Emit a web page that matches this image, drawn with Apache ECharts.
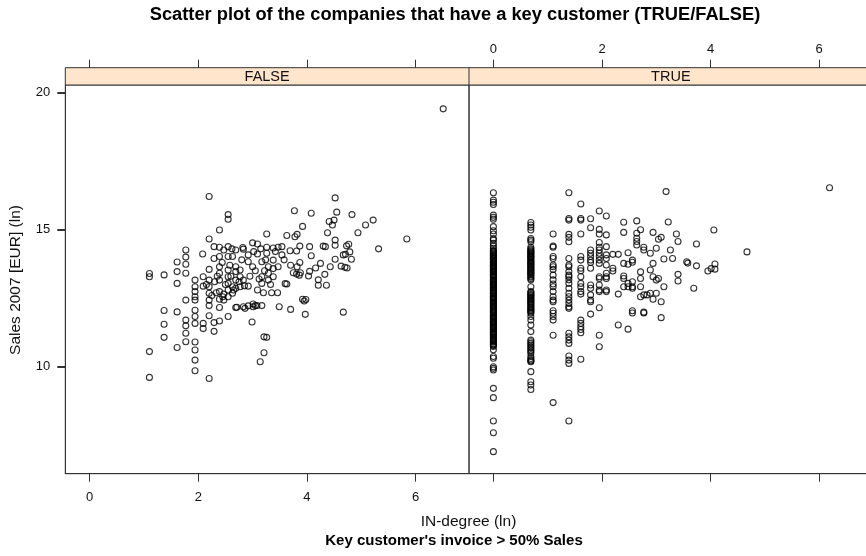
<!DOCTYPE html>
<html>
<head>
<meta charset="utf-8">
<script src="https://cdn.jsdelivr.net/npm/echarts@6/dist/echarts.min.js"></script>
<style>html,body{margin:0;padding:0;background:#fff;}#c{width:866px;height:556px;}</style>
</head>
<body>
<div id="c"></div>
<script>
// ---------- DATA ----------
const panelNames = ['FALSE', 'TRUE'];
const xTicks = [0, 2, 4, 6];
const yTicks = [10, 15, 20];

// FALSE panel: [IN-degree (ln), Sales 2007 (ln)]
const falsePts = [
[2.20,16.21],[4.52,16.16],[2.55,15.55],[2.55,15.38],[3.77,15.69],[4.08,15.60],[4.55,15.64],[4.83,15.55],[5.22,15.35],[5.08,15.17],
[4.94,14.89],[4.41,15.30],[4.50,15.35],[4.47,15.17],[4.38,14.89],[3.92,15.12],[2.39,14.99],[5.84,14.66],[5.32,14.30],[3.26,14.84],
[3.63,14.79],[3.78,14.74],[3.82,14.83],[2.20,14.66],[4.52,14.62],[4.77,14.47],[4.73,14.41],[4.52,14.43],[4.30,14.40],[4.34,14.38],
[4.05,14.38],[3.87,14.40],[4.79,14.19],[4.67,14.08],[4.71,14.10],[4.82,13.92],[4.52,13.92],[4.70,13.63],[4.74,13.60],[4.63,13.67],
[4.43,13.65],[4.33,13.37],[4.36,12.97],[4.21,13.17],[4.21,12.97],[4.25,13.77],[4.16,13.60],[4.05,13.48],[4.03,13.31],[4.08,14.05],
[3.87,13.80],[3.82,13.65],[3.75,13.43],[3.81,13.38],[3.86,13.34],[3.88,13.43],[3.70,13.70],[3.92,12.46],[3.95,12.40],[3.98,12.45],
[4.67,11.99],[3.97,11.91],[3.70,12.09],[3.49,12.19],[3.63,13.02],[3.60,13.03],[3.46,12.70],[3.35,12.70],[3.20,12.70],[3.17,12.23],
[3.08,12.23],[3.01,12.19],[2.92,12.22],[2.86,12.13],[2.83,12.19],[2.71,12.17],[2.69,12.16],[2.99,11.63],[3.21,11.09],[3.26,11.07],
[3.21,10.51],[3.14,10.18],[3.01,12.29],[3.05,12.23],[2.55,11.83],[2.39,11.67],[2.29,11.61],[2.29,11.29],[2.20,11.86],[2.09,11.58],
[2.09,11.39],[1.94,12.06],[1.94,11.83],[1.94,11.58],[1.94,10.90],[1.94,10.61],[1.94,10.24],[1.94,9.85],[2.20,9.57],[1.77,11.70],
[1.77,11.49],[1.77,11.22],[1.77,10.91],[1.61,12.00],[1.61,10.70],[1.37,12.05],[1.37,11.55],[1.37,11.07],[1.10,10.55],[1.10,9.61],
[1.10,13.40],[1.10,13.28],[1.37,13.35],[1.61,13.47],[1.61,13.04],[1.61,13.82],[1.77,14.26],[1.77,14.00],[1.77,13.74],[1.77,13.41],
[1.77,12.43],[1.94,13.16],[1.94,12.92],[1.94,12.74],[1.94,12.55],[1.94,12.43],[2.08,14.11],[2.09,13.28],[2.09,12.94],[2.20,13.55],
[2.20,13.16],[2.20,12.92],[2.20,12.68],[2.20,12.43],[2.20,12.23],[2.29,14.38],[2.29,13.95],[2.39,14.36],[2.39,14.02],[2.39,13.65],
[2.39,13.41],[2.39,13.16],[2.39,12.74],[2.39,12.46],[2.39,12.16],[2.47,14.26],[2.47,12.65],[2.47,12.43],[2.55,14.38],[2.55,14.02],
[2.55,13.53],[2.55,13.28],[2.55,13.04],[2.55,12.80],[2.55,12.55],[2.63,14.02],[2.63,12.92],[2.63,12.68],[2.69,14.26],[2.69,13.65],
[2.69,13.47],[2.69,13.16],[2.69,12.86],[2.77,13.53],[2.77,13.28],[2.77,12.92],[2.83,14.29],[2.83,13.16],[2.92,14.08],[2.92,13.83],
[2.92,12.94],[3.00,14.52],[3.00,13.65],[3.09,14.48],[3.09,14.11],[3.09,12.80],[3.17,13.83],[3.17,13.28],[3.17,13.04],[3.26,14.36],
[3.26,14.14],[3.29,13.65],[3.29,13.41],[3.29,13.16],[3.38,14.33],[3.38,13.89],[3.38,13.58],[3.38,13.28],[3.47,14.36],[3.47,13.65],
[3.54,14.38],[3.54,14.08],[3.69,14.23],[3.81,14.22],[6.51,19.41],
[2.33,12.70],[2.45,12.55],[2.50,13.00],[2.60,13.30],[2.65,12.80],[2.75,13.10],[2.85,12.95],[2.95,13.30],[3.05,13.50],[3.12,13.20],
[3.22,13.50],[3.33,13.00],[2.30,13.10],[2.44,13.80],[2.58,13.70],[2.80,13.90],[3.02,14.20],[3.15,14.30],[3.42,14.20],[3.58,13.90],
[2.15,13.00],[2.25,12.60],[2.35,13.30],[2.62,14.30],[2.82,14.35],[3.24,13.90]
];

// TRUE panel: columns of low integer in-degrees (x value) and their Sales values
const trueColX = [0, 0.69, 1.10, 1.39, 1.61, 1.79, 1.95, 2.08];
const trueColY = [
  [16.35,16.08,16.00,15.92,15.53,15.45,15.38,15.11,14.96,14.84,14.68,14.62,14.50,14.40,14.32,
   14.24,14.19,14.11,14.06,13.97,13.93,13.84,13.79,13.70,13.66,13.59,13.51,13.46,13.37,13.33,13.26,13.17,13.12,13.04,
   12.99,12.91,12.86,12.79,12.71,12.66,12.57,12.52,12.46,12.37,12.31,12.24,12.17,12.11,12.03,11.97,11.88,11.82,11.77,
   11.69,11.63,11.55,11.49,11.42,11.37,11.28,11.22,11.16,11.08,11.02,10.95,10.89,10.80,10.74,
   14.22,14.15,14.08,14.01,13.95,13.88,13.81,13.75,13.68,13.62,13.55,13.48,13.42,13.35,13.29,13.21,13.15,13.08,13.01,
   12.95,12.88,12.82,12.75,12.68,12.62,12.55,12.49,12.41,12.34,12.27,12.21,12.14,12.07,12.00,11.93,11.85,11.79,11.73,
   11.66,11.60,11.52,11.45,11.39,11.33,11.25,11.19,11.12,11.05,10.99,10.92,10.84,10.77,
   10.62,10.37,10.31,10.00,9.94,9.88,9.21,8.87,8.02,7.59,6.90],
  [15.26,15.17,15.09,14.99,14.68,14.62,14.56,14.36,14.26,14.19,14.12,14.03,13.97,13.88,13.81,13.74,13.66,13.58,13.51,
   13.43,13.36,13.27,13.17,12.92,12.74,12.67,12.60,12.51,12.43,12.36,12.28,12.19,12.11,12.03,11.95,11.83,11.70,11.52,11.28,
   10.97,10.85,10.73,10.67,10.55,10.37,10.24,10.18,9.82,9.45,9.33,9.17,
   14.30,14.22,14.15,14.07,14.00,13.92,13.84,13.77,13.70,13.62,13.54,13.47,13.40,13.31,13.22,
   12.71,12.63,12.55,12.47,12.39,12.32,12.24,12.15,12.07,11.99,10.91,10.79,10.61,10.49,10.30,10.21],
  [14.84,14.40,14.36,14.02,13.95,13.71,13.65,13.55,13.34,13.17,13.02,12.92,12.74,12.55,12.43,12.37,12.04,11.95,11.83,11.70,11.15,8.69],
  [16.35,15.41,15.35,14.83,14.72,14.56,13.95,13.71,13.65,13.47,13.34,13.28,13.17,13.04,12.86,12.68,12.55,12.43,12.31,12.19,
   12.13,11.22,11.09,10.97,10.85,10.39,10.24,10.12,8.02],
  [15.94,15.41,15.35,14.84,14.02,13.89,13.59,13.50,13.28,13.04,12.92,12.74,12.65,11.70,11.58,11.46,11.36,11.24,10.27],
  [15.40,15.07,14.26,14.14,14.02,13.89,13.80,13.59,12.98,12.86,12.62,12.43,12.37,11.92],
  [15.68,15.01,14.84,14.53,14.36,14.26,14.14,14.02,13.89,13.77,13.28,13.22,12.98,12.80,12.74,12.15,11.15,10.73],
  [15.50,14.81,14.38,14.08,13.95,13.71,13.41,13.28,13.22,12.80,12.74]
];
// TRUE panel: remaining points
const truePts = [
[2.20,14.10],[2.20,13.59],[2.20,13.49],[2.30,14.10],[2.30,12.65],[2.30,11.52],[2.40,15.27],[2.40,14.90],[2.40,13.31],[2.40,13.22],
[2.40,13.77],[2.40,12.92],[2.48,14.16],[2.48,11.37],[2.48,13.04],[2.48,12.92],[2.48,13.74],[2.56,13.89],[2.56,13.81],[2.56,13.10],
[2.56,12.92],[2.56,12.86],[2.56,12.04],[2.56,11.96],[2.64,15.32],[2.64,14.87],[2.64,14.69],[2.64,14.57],[2.64,14.44],[2.71,15.00],
[2.71,13.46],[2.71,13.22],[2.71,12.92],[2.71,12.55],[2.77,14.36],[2.77,14.26],[2.77,11.99],[2.77,11.96],[2.77,12.62],[2.83,12.62],
[2.89,14.14],[2.89,13.53],[2.89,12.68],[2.94,14.90],[2.94,13.77],[2.94,13.28],[2.94,12.46],[3.00,14.32],[3.00,13.16],[3.00,12.68],
[3.04,14.65],[3.09,14.72],[3.04,13.22],[3.09,12.37],[3.09,11.79],[3.14,13.93],[3.14,12.92],[3.18,16.39],[3.22,15.28],[3.26,14.26],
[3.30,13.95],[3.37,14.84],[3.40,14.57],[3.40,13.37],[3.40,13.13],[3.56,13.83],[3.58,13.78],[3.69,12.86],[3.74,14.48],[3.74,13.68],
[3.95,13.49],[4.01,13.58],[4.08,13.75],[4.08,13.56],[4.06,14.99],[4.67,14.19],[6.19,16.53]
];

// ---------- LAYOUT ----------
const FONT = '"Liberation Sans", Arial, sans-serif';
const LINE = '#333';
const P = { left1: 65.3, left2: 469, top: 85, w: 403.7, h: 388.7, stripH: 17.3 };
const xMin = -0.449, xMax = 6.985, yMin = 6.095, yMax = 20.28;

const trueData = [];
trueColX.forEach((x, i) => trueColY[i].forEach(y => trueData.push([x, y])));
truePts.forEach(p => trueData.push(p));

const chart = echarts.init(document.getElementById('c'));

function xAxisDef(grid, pos, showLabel) {
  return {
    type: 'value', gridIndex: grid, position: pos, min: xMin, max: xMax,
    offset: pos === 'top' ? P.stripH : 0,
    axisLine: { show: pos !== 'top', onZero: false, lineStyle: { color: LINE, width: 1 } },
    splitLine: { show: false },
    axisTick: { show: true, customValues: xTicks, length: 8, inside: false, lineStyle: { color: LINE, width: 1 } },
    axisLabel: { show: showLabel, customValues: xTicks, margin: pos === 'top' ? 12 : 17,
      color: '#111', fontSize: 13, fontFamily: FONT }
  };
}

const symStyle = { color: 'rgba(0,0,0,0)', borderColor: '#000', borderWidth: 1.1 };

const baseGraphic = [
  { id: 'strip', type: 'rect', shape: { x: P.left1, y: P.top - P.stripH, width: 2 * P.w, height: P.stripH },
    style: { fill: '#FFE5CC', stroke: LINE, lineWidth: 1 }, silent: true },
  { id: 'stripDiv', type: 'line', shape: { x1: P.left2, y1: P.top - P.stripH, x2: P.left2, y2: P.top },
    style: { stroke: LINE, lineWidth: 1 }, silent: true },
  { id: 's0', type: 'text', x: P.left1 + P.w / 2, y: P.top - P.stripH / 2 + 0.5,
    style: { text: panelNames[0], fill: '#111', font: '14.5px ' + FONT, align: 'center', verticalAlign: 'middle' } },
  { id: 's1', type: 'text', x: P.left2 + P.w / 2, y: P.top - P.stripH / 2 + 0.5,
    style: { text: panelNames[1], fill: '#111', font: '14.5px ' + FONT, align: 'center', verticalAlign: 'middle' } },
  { id: 'title', type: 'text', x: 455, y: 15,
    style: { text: 'Scatter plot of the companies that have a key customer (TRUE/FALSE)', fill: '#000',
      font: 'bold 18.3px ' + FONT, align: 'center', verticalAlign: 'middle' } },
  { id: 'xlab', type: 'text', x: 468.5, y: 522,
    style: { text: 'IN-degree (ln)', fill: '#111', font: '15.5px ' + FONT, align: 'center', verticalAlign: 'middle' } },
  { id: 'sub', type: 'text', x: 454, y: 541,
    style: { text: "Key customer's invoice > 50% Sales", fill: '#000', font: 'bold 15px ' + FONT, align: 'center', verticalAlign: 'middle' } },
  { id: 'ylab', type: 'text', x: 16, y: 280, rotation: Math.PI / 2,
    style: { text: 'Sales 2007 [EUR] (ln)', fill: '#111', font: '15.5px ' + FONT, align: 'center', verticalAlign: 'middle' } }
];

chart.setOption({
  animation: false,
  backgroundColor: '#fff',
  grid: [
    { left: P.left1, top: P.top, width: P.w, height: P.h, show: true, borderColor: LINE, borderWidth: 1, backgroundColor: 'transparent', outerBoundsMode: 'none', containLabel: false },
    { left: P.left2, top: P.top, width: P.w, height: P.h, show: true, borderColor: LINE, borderWidth: 1, backgroundColor: 'transparent', outerBoundsMode: 'none', containLabel: false }
  ],
  xAxis: [
    xAxisDef(0, 'bottom', true),
    xAxisDef(0, 'top', false),
    xAxisDef(1, 'bottom', false),
    xAxisDef(1, 'top', true)
  ],
  yAxis: [
    { type: 'value', gridIndex: 0, position: 'left', min: yMin, max: yMax,
      axisLine: { show: true, onZero: false, lineStyle: { color: LINE, width: 1 } }, splitLine: { show: false },
      axisTick: { show: true, customValues: yTicks, length: 8, lineStyle: { color: LINE, width: 1 } },
      axisLabel: { show: true, customValues: yTicks, margin: 15, color: '#111', fontSize: 13, fontFamily: FONT } },
    { type: 'value', gridIndex: 1, position: 'left', min: yMin, max: yMax,
      axisLine: { show: false, onZero: false }, splitLine: { show: false }, axisTick: { show: false }, axisLabel: { show: false } }
  ],
  series: [
    { type: 'scatter', xAxisIndex: 0, yAxisIndex: 0, data: falsePts, symbol: 'circle', symbolSize: 6,
      itemStyle: symStyle, silent: true, emphasis: { disabled: true } },
    { type: 'scatter', xAxisIndex: 2, yAxisIndex: 1, data: trueData, symbol: 'circle', symbolSize: 6,
      itemStyle: symStyle, silent: true, emphasis: { disabled: true } }
  ],
  graphic: baseGraphic
});

// y-axis tick marks placed through the library's own y scale (guarantees visibility)
const tickGraphic = yTicks.map((v, i) => {
  const py = Math.round(chart.convertToPixel({ yAxisIndex: 0 }, v)) + 0.5;
  return { id: 'yt' + i, type: 'line', silent: true,
    shape: { x1: P.left1 - 8, y1: py, x2: P.left1, y2: py },
    style: { stroke: LINE, lineWidth: 1 } };
});
chart.setOption({ graphic: baseGraphic.concat(tickGraphic) });
</script>
</body>
</html>
